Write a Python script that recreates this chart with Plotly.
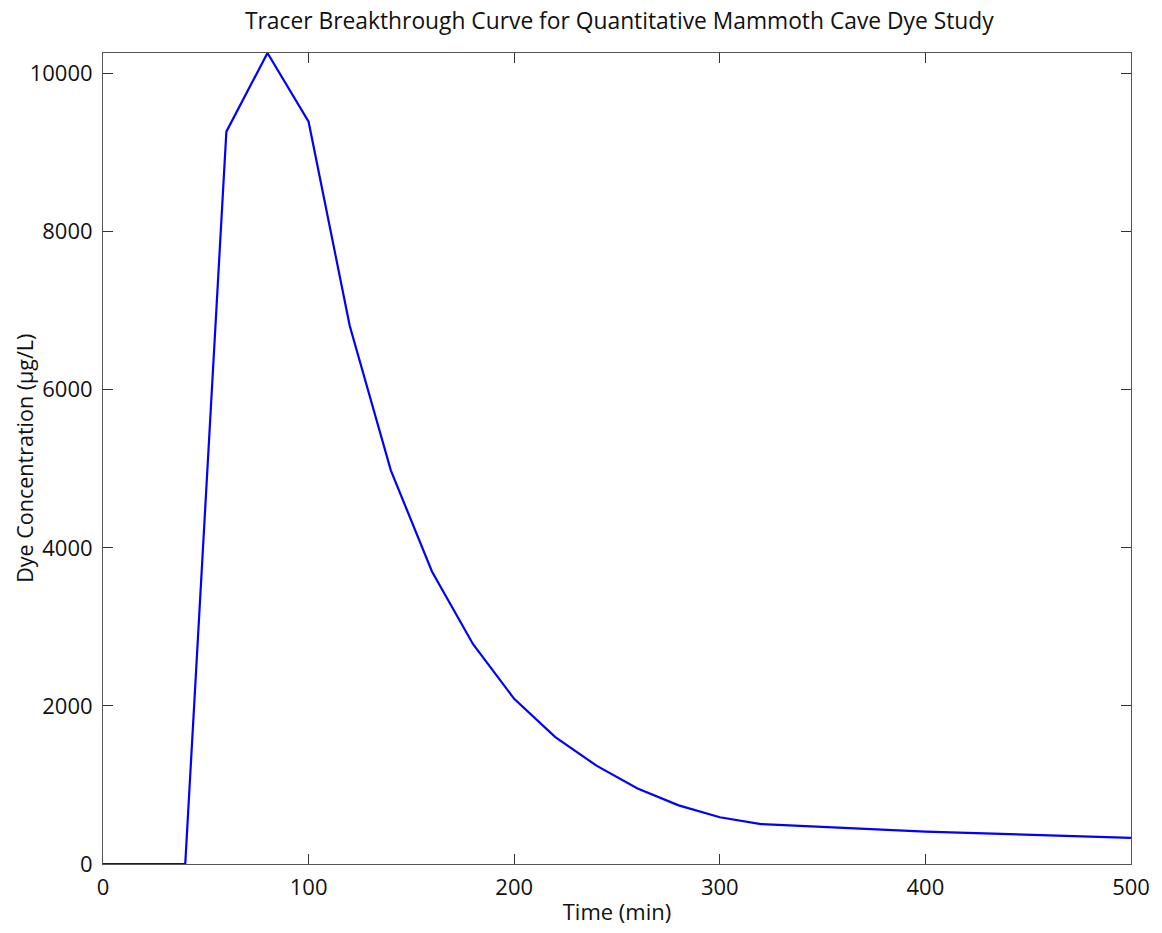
import plotly.graph_objects as go

time_min = [0, 20, 40, 60, 80, 100, 120, 140, 160, 180, 200, 220, 240, 260, 280, 300, 320, 400, 500]
conc_ugL = [0, 0, 0, 9265, 10260, 9390, 6810, 4980, 3700, 2780, 2090, 1605, 1245, 955, 742, 592, 505, 410, 330]

x_ticks = [0, 100, 200, 300, 400, 500]
y_ticks = [0, 2000, 4000, 6000, 8000, 10000]

FONT = "Open Sans"

fig = go.Figure()
fig.add_trace(go.Scatter(x=time_min, y=conc_ugL, mode="lines",
                         line=dict(color="#0000ff", width=2.2), showlegend=False))

axis_common = dict(showline=True, mirror="allticks", linecolor="#555555", linewidth=1,
                   ticks="inside", ticklen=10, tickcolor="#333333", tickwidth=1,
                   showgrid=False, zeroline=False, tickformat="d",
                   tickfont=dict(family=FONT, size=22, color="#111111"))

fig.update_layout(
    width=1162, height=933,
    paper_bgcolor="white", plot_bgcolor="white",
    margin=dict(l=103, r=25, t=53, b=62),
    title=dict(text="Tracer Breakthrough Curve for Quantitative Mammoth Cave Dye Study",
               x=0.533, xanchor="center", y=0.978, yanchor="middle",
               font=dict(family=FONT, size=22.8, color="#111111")),
    xaxis=dict(range=[0, 500], tickvals=x_ticks, ticklabelstandoff=4,
               title=dict(text="Time (min)", standoff=4,
                          font=dict(family=FONT, size=22, color="#111111")),
               **axis_common),
    yaxis=dict(range=[0, 10260], tickvals=y_ticks, ticklabelstandoff=5,
               **axis_common),
    annotations=[dict(text="Dye Concentration (µg/L)", textangle=-90,
                      xref="paper", yref="paper", x=-0.0766, y=0.5,
                      xanchor="center", yanchor="middle", showarrow=False,
                      font=dict(family=FONT, size=21.5, color="#111111"))],
)

fig.write_html("out.html", config={"displayModeBar": False},
               post_script="document.body.style.margin='0';document.body.style.overflow='hidden';")
